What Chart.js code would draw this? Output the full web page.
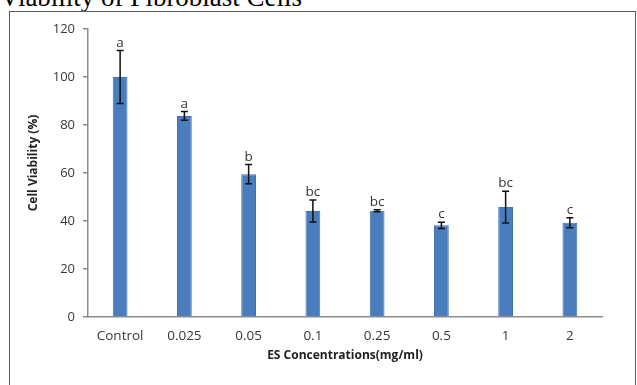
<!DOCTYPE html>
<html>
<head>
<meta charset="utf-8">
<script src="https://cdn.jsdelivr.net/npm/chart.js@4"></script>
<style>
  body { margin: 0; background: #fff; }
  #wrap { position: relative; width: 637px; height: 385px; overflow: hidden; }
  #title { position: absolute; left: 0; top: -18px; font-family: "Liberation Serif", "DejaVu Serif", serif; font-size: 27px; color: #000; white-space: nowrap; }
  #frame { position: absolute; left: 9px; top: 11px; width: 627px; height: 400px; border: 1px solid #5a5a5a; box-sizing: border-box; }
  canvas { position: absolute; left: 0; top: 0; }
</style>
</head>
<body>
<div id="wrap">
  <div id="title">Viability of Fibroblast Cells</div>
  <div id="frame"></div>
  <canvas id="myChart" width="637" height="385"></canvas>
</div>
<script>
// 농도별 세포 생존율 데이터
var concentrations = ['Control', '0.025', '0.05', '0.1', '0.25', '0.5', '1', '2'];
var viability = [100, 83.8, 59.5, 44.2, 44.3, 38.2, 45.8, 39.3];
var errors = [11, 1.8, 4, 4.6, 0.4, 1.3, 6.6, 2.1];
var groups = ['a', 'a', 'b', 'bc', 'bc', 'c', 'bc', 'c'];

// 오차막대 + 유의성 문자 + 축 제목 그리는 플러그인
var errorBarPlugin = {
  id: 'errorBars',
  afterDatasetsDraw: function(chart) {
    var ctx = chart.ctx;
    var meta = chart.getDatasetMeta(0);
    var y = chart.scales.y;
    ctx.save();
    meta.data.forEach(function(bar, i) {
      var x = bar.x;
      var top = y.getPixelForValue(viability[i] + errors[i]);
      var bot = y.getPixelForValue(viability[i] - errors[i]);
      ctx.strokeStyle = '#111';
      ctx.lineWidth = 1.5;
      ctx.beginPath();
      ctx.moveTo(x, top); ctx.lineTo(x, bot);
      ctx.moveTo(x - 3.5, top); ctx.lineTo(x + 3.5, top);
      ctx.moveTo(x - 3.5, bot); ctx.lineTo(x + 3.5, bot);
      ctx.stroke();
      ctx.fillStyle = '#333';
      ctx.font = '13.5px "Open Sans"';
      ctx.textAlign = 'center';
      ctx.textBaseline = 'bottom';
      ctx.fillText(groups[i], x, top - 1);
    });
    // 축 제목
    var area = chart.chartArea;
    ctx.fillStyle = '#222';
    ctx.font = 'bold 12px "Open Sans"';
    ctx.textAlign = 'center';
    ctx.textBaseline = 'middle';
    ctx.fillText('ES Concentrations(mg/ml)', (area.left + area.right) / 2, 356);
    ctx.translate(34, 163);
    ctx.rotate(-Math.PI / 2);
    ctx.fillText('Cell Viability (%)', 0, 0);
    ctx.restore();
  }
};

var ctxV = document.getElementById('myChart');
var myChart = new Chart(ctxV, {
  type: 'bar',
  data: {
    labels: concentrations,
    datasets: [{
      data: viability,
      backgroundColor: '#4a7dbd',
      borderColor: '#3f72ae',
      borderWidth: 1,
      barPercentage: 0.23,
      categoryPercentage: 1
    }]
  },
  options: {
    responsive: false,
    animation: false,
    layout: { padding: { left: 0, top: 29, right: 35, bottom: 0 } },
    plugins: { legend: { display: false }, tooltip: { enabled: false } },
    scales: {
      x: {
        grid: { drawOnChartArea: false, drawTicks: false },
        border: { color: '#8c8c8c', width: 1.5 },
        ticks: { color: '#383838', font: { family: 'Open Sans', size: 13.5 }, padding: 11 },
        afterFit: function(s) { s.height = 68; }
      },
      y: {
        min: 0, max: 120,
        ticks: { stepSize: 20, color: '#383838', font: { family: 'Open Sans', size: 13 }, padding: 8 },
        grid: { drawOnChartArea: false, drawTicks: true, tickLength: 5, color: '#8c8c8c', lineWidth: 1.5 },
        border: { color: '#8c8c8c', width: 1.5 },
        afterFit: function(s) { s.width = 88; }
      }
    }
  },
  plugins: [errorBarPlugin]
});
</script>
</body>
</html>
